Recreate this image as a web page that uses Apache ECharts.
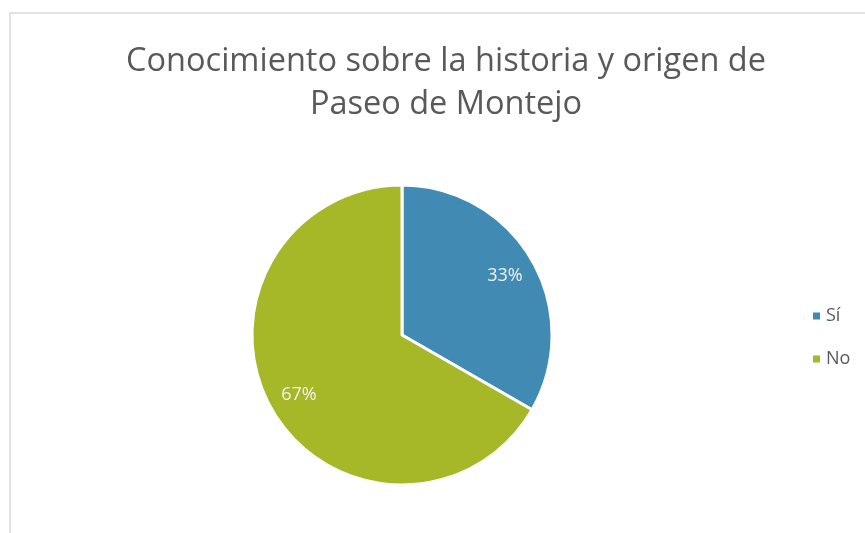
<!DOCTYPE html>
<html>
<head>
<meta charset="utf-8">
<script src="https://cdn.jsdelivr.net/npm/echarts@6/dist/echarts.min.js"></script>
<style>
html,body{margin:0;padding:0;background:#fff;}
#chart{width:865px;height:533px;}
</style>
</head>
<body>
<div id="chart"></div>
<script>
const titleText = "Conocimiento sobre la historia y origen de\nPaseo de Montejo";
const categories = ["Sí", "No"];
const values = [33.3, 66.7];
const colors = ["#418AB3", "#A6B727"];

const pieData = categories.map((c, i) => ({ name: c, value: values[i], itemStyle: { color: colors[i] } }));
const labelData = categories.map((c, i) => ({ name: c, value: values[i] }));

const chart = echarts.init(document.getElementById('chart'));
chart.setOption({
  animation: false,
  title: {
    text: titleText,
    left: 441,
    top: 35,
    textAlign: 'center',
    textStyle: {
      fontFamily: 'Open Sans',
      fontWeight: 'normal',
      fontSize: 32.5,
      lineHeight: 43,
      color: '#595959'
    }
  },
  legend: {
    data: categories,
    orient: 'vertical',
    left: 806,
    top: 302,
    itemWidth: 9,
    itemHeight: 9,
    itemGap: 25,
    icon: 'rect',
    textStyle: { fontFamily: 'Open Sans', fontSize: 18, color: '#595959' }
  },
  graphic: [{
    type: 'rect',
    shape: { x: 10, y: 13, width: 900, height: 600 },
    style: { fill: 'none', stroke: '#d9d9d9', lineWidth: 1.5 },
    silent: true,
    z: -10
  }],
  series: [{
    type: 'pie',
    center: [402, 335],
    radius: [0, 150],
    startAngle: 90,
    clockwise: true,
    label: { show: false },
    labelLine: { show: false },
    emphasis: { disabled: true },
    itemStyle: { borderColor: '#ffffff', borderWidth: 3 },
    data: pieData
  }, {
    type: 'pie',
    center: [402, 335],
    radius: [82, 150],
    startAngle: 90,
    clockwise: true,
    silent: true,
    legendHoverLink: false,
    emphasis: { disabled: true },
    itemStyle: { color: 'rgba(0,0,0,0)' },
    label: {
      show: true,
      position: 'inside',
      formatter: p => Math.round(p.percent) + '%',
      fontFamily: 'Open Sans',
      fontSize: 18,
      color: '#f2f2f2'
    },
    labelLine: { show: false },
    data: labelData
  }]
});
</script>
</body>
</html>
